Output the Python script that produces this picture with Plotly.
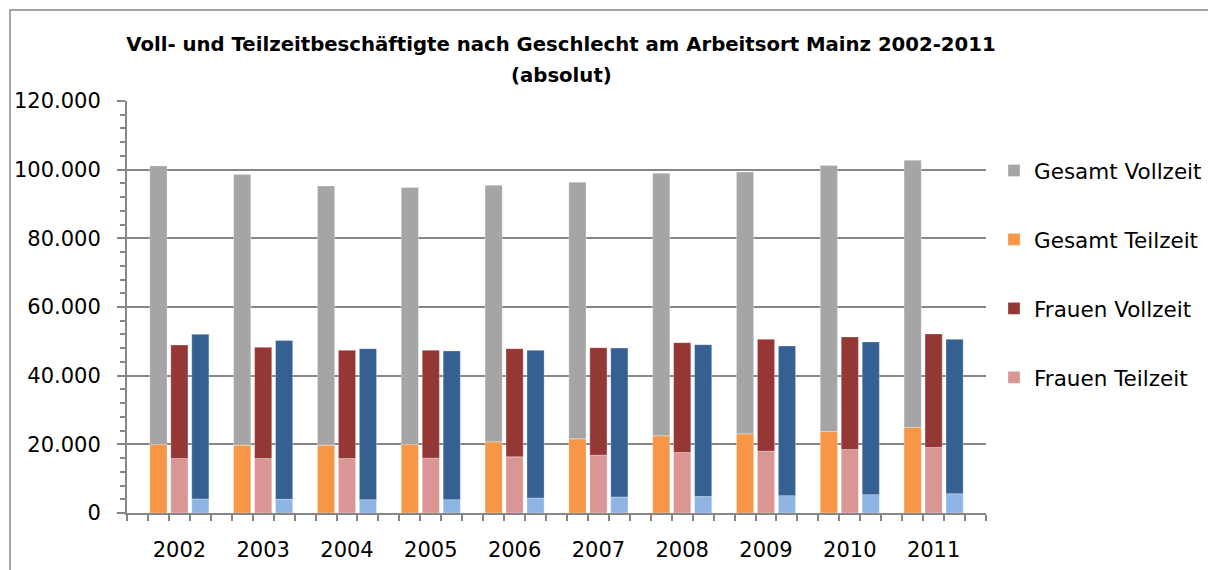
import plotly.graph_objects as go

years = ["2002", "2003", "2004", "2005", "2006", "2007", "2008", "2009", "2010", "2011"]

gesamt_teilzeit = [19950, 19750, 19750, 19950, 20720, 21600, 22480, 23060, 23740, 24910]
gesamt_vollzeit = [81150, 78810, 75510, 74820, 74730, 74730, 76470, 76280, 77450, 77840]
frauen_teilzeit = [15860, 15860, 15860, 15960, 16350, 16830, 17610, 18000, 18490, 19070]
frauen_vollzeit = [33080, 32400, 31530, 31430, 31520, 31330, 32010, 32600, 32790, 33080]
maenner_teilzeit = [4090, 3990, 3890, 3890, 4380, 4670, 4770, 5060, 5350, 5640]
maenner_vollzeit = [47970, 46220, 43980, 43300, 43010, 43400, 44270, 43590, 44470, 44960]

FONT = "DejaVu Sans"
SLOTS = 4  # empty slot + 3 bars per year
n = len(years)

def pos(k):
    return [SLOTS * i + k + 0.5 for i in range(n)]

fig = go.Figure()
bw = 0.82
line = dict(color="rgba(255,255,255,0.6)", width=0.5)

series = [
    ("Gesamt Teilzeit", 1, gesamt_teilzeit, None, "#F79646", True, 2),
    ("Gesamt Vollzeit", 1, gesamt_vollzeit, gesamt_teilzeit, "#A5A5A5", True, 1),
    ("Frauen Teilzeit", 2, frauen_teilzeit, None, "#D99694", True, 4),
    ("Frauen Vollzeit", 2, frauen_vollzeit, frauen_teilzeit, "#953735", True, 3),
    ("Männer Teilzeit", 3, maenner_teilzeit, None, "#8EB4E3", False, 6),
    ("Männer Vollzeit", 3, maenner_vollzeit, maenner_teilzeit, "#366092", False, 5),
]

for name, k, vals, base, color, show, rank in series:
    fig.add_trace(go.Bar(
        name=name, x=pos(k), y=vals, base=base if base is not None else [0] * n,
        width=bw, marker=dict(color=color, line=line),
        showlegend=show, legendrank=rank, legendgroup=name,
    ))

W, H = 1208, 570
ml, mr, mt, mb = 127, 222, 101, 57
pw, ph = W - ml - mr, H - mt - mb

fig.update_layout(
    width=W, height=H,
    margin=dict(l=ml, r=mr, t=mt, b=mb, autoexpand=False),
    barmode="overlay",
    separators=",.",
    paper_bgcolor="white", plot_bgcolor="white",
    font=dict(family=FONT, size=21, color="#000000"),
    title=dict(
        text="<b>Voll- und Teilzeitbeschäftigte nach Geschlecht am Arbeitsort Mainz 2002-2011</b>",
        x=561 / W, xanchor="center", y=1 - 44 / H, yanchor="middle",
        font=dict(family=FONT, size=19.7, color="#000000"),
    ),
    annotations=[dict(
        text="<b>(absolut)</b>", xref="paper", yref="paper",
        x=(561 - ml) / pw, y=(H - mb - 75) / ph, xanchor="center", yanchor="middle",
        showarrow=False, font=dict(family=FONT, size=19.7, color="#000000"),
    )],
    legend=dict(
        x=(994 - ml) / pw, xanchor="left", y=(H - mb - 150) / ph, yanchor="top",
        font=dict(family=FONT, size=21.5), tracegroupgap=38,
        bgcolor="rgba(0,0,0,0)",
    ),
    xaxis=dict(
        range=[0, SLOTS * n + 1],
        tickmode="array", tickvals=pos(2), ticktext=years,
        ticks="", showgrid=False, zeroline=False,
        showline=True, linecolor="#868686", linewidth=2,
        minor=dict(tickmode="linear", tick0=0, dtick=1, ticks="outside",
                   ticklen=6, tickcolor="#868686", tickwidth=2, showgrid=False),
        tickfont=dict(family=FONT, size=21), ticklabelstandoff=17, fixedrange=True,
    ),
    yaxis=dict(
        range=[0, 120000], dtick=20000, tickformat=",d",
        showgrid=True, gridcolor="#868686", gridwidth=2,
        zeroline=False, showline=True, linecolor="#868686", linewidth=2,
        ticks="outside", ticklen=8, tickcolor="#868686", tickwidth=2,
        minor=dict(dtick=4000, ticks="outside", ticklen=5, tickcolor="#868686",
                   tickwidth=2, showgrid=False),
        tickfont=dict(family=FONT, size=21), ticklabelstandoff=12, fixedrange=True,
    ),
    shapes=[dict(
        type="rect", xref="paper", yref="paper",
        x0=(10 - ml) / pw, x1=(W + 20 - ml) / pw,
        y0=(H - mb - (H + 20)) / ph, y1=(H - mb - 10) / ph,
        line=dict(color="#868686", width=1.5), fillcolor="rgba(0,0,0,0)", layer="below",
    )],
)

fig.write_html(
    "out.html",
    config={"displayModeBar": False},
    post_script="document.body.style.margin='0';document.body.style.overflow='hidden';",
)
